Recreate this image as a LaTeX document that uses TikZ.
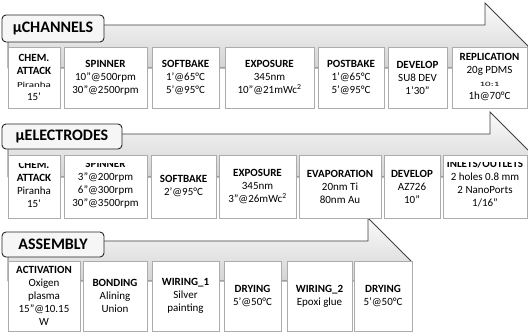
\documentclass[tikz,border=0pt]{standalone}
\usepackage{fontspec}
\setmainfont{Carlito}
\usepackage{graphicx}

% process step box: name, x1, y1, x2, y2, text
\newcommand\stepat[6]{%
  \node[stepbox, minimum width={(#4-#2)*1pt}, minimum height={(#5-#3)*1pt}]
    (#1) at ({(#2+#4)/2},{(#3+#5)/2}) {#6};}
\newcommand\squash[2]{\scalebox{1}[#1]{#2}}

\begin{document}
\begin{tikzpicture}[x=1pt,y=-1pt,
  flowarrow/.style={draw=black!75, line width=0.8pt, top color=gray!3,
    bottom color=gray!45, line join=miter},
  titlebox/.style={draw=black!85, line width=0.9pt, fill=gray!7,
    rounded corners=4pt, inner sep=0pt,
    font=\fontsize{16}{18}\selectfont\bfseries},
  stepbox/.style={draw=gray!65, line width=0.7pt, fill=white, inner sep=0pt,
    align=center, font=\fontsize{11}{13}\selectfont},
  steptext/.style={inner sep=0pt, align=center,
    font=\fontsize{11}{13}\selectfont},
  tall/.style={font=\fontsize{11}{14}\selectfont}
]
\clip (0,0) rectangle (528,336);

% ---- process arrows ----
\draw[flowarrow] (8,25) -- (485,25) -- (485,3) -- (528.5,46.5) -- (485,90)
  -- (485,68) -- (8,68) -- cycle;
\draw[flowarrow] (8,134) -- (490,134) -- (490,112) -- (533.5,155.5) -- (490,199)
  -- (490,177) -- (8,177) -- cycle;
\draw[flowarrow] (8,241) -- (368,241) -- (368,218) -- (411,261) -- (368,304)
  -- (368,281) -- (8,281) -- cycle;

% ---- micro channels ----
\node[titlebox, minimum width=102pt, minimum height=27pt] (chanTitle) at (53,28.5) {µCHANNELS};
\stepat{chanChem}{8}{47}{60}{108}{\textbf{CHEM.}\\\textbf{ATTACK}\\\squash{0.7}{Piranha}\\15’}
\stepat{chanSpin}{64}{47}{147}{108}{\textbf{SPINNER}\\10”@500rpm\\30”@2500rpm}
\stepat{chanSoft}{152}{47}{219}{108}{\textbf{SOFTBAKE}\\1’@65°C\\5’@95°C}
\stepat{chanExpo}{225}{47}{314}{108}{\textbf{EXPOSURE}\\345nm\\10”@21mWc\textsuperscript{2}}
\stepat{chanPost}{318}{47}{384}{108}{\textbf{POSTBAKE}\\1’@65°C\\5’@95°C}
\stepat{chanDev}{388}{47}{447}{108}{\textbf{DEVELOP}\\SU8 DEV\\1’30”}
\stepat{chanRep}{452}{47}{527}{108}{\textbf{REPLICATION}\\20g PDMS\\\squash{0.6}{10:1}\\1h@70°C}

% ---- micro electrodes ----
\node[titlebox, minimum width=120pt, minimum height=25pt] (elecTitle) at (62,136.5) {µELECTRODES};
\stepat{elecChem}{8}{155}{60}{218}{}
\begin{scope}
  \clip (8,163.5) rectangle (60,218);
  \node[steptext] (elecChemText) at (34,184) {\textbf{CHEM.}\\\textbf{ATTACK}\\Piranha\\15’};
\end{scope}
\stepat{elecSpin}{64}{155}{147}{218}{}
\begin{scope}
  \clip (64,163.5) rectangle (147,218);
  \node[steptext] (elecSpinText) at (105.5,184) {\textbf{SPINNER}\\3”@200rpm\\6”@300rpm\\30”@3500rpm};
\end{scope}
\stepat{elecSoft}{151}{155}{216}{218}{\textbf{SOFTBAKE}\\2’@95°C}
\stepat{elecExpo}{219}{155}{296}{218}{\textbf{EXPOSURE}\\345nm\\3”@26mWc\textsuperscript{2}}
\stepat{elecEvap}{299}{155}{381}{218}{\textbf{EVAPORATION}\\20nm Ti\\80nm Au}
\stepat{elecDev}{384}{155}{440}{218}{\textbf{DEVELOP}\\AZ726\\10”}
\stepat{elecPort}{443}{155}{527}{218}{}
\begin{scope}
  \clip (443,162.5) rectangle (527,218);
  \node[steptext] (elecPortText) at (485,183.5) {\textbf{INLETS/OUTLETS}\\2 holes 0.8 mm\\2 NanoPorts\\1/16”};
\end{scope}

% ---- assembly ----
\node[titlebox, minimum width=102pt, minimum height=25pt] (asmTitle) at (53,244.5) {ASSEMBLY};
\stepat{asmAct}{8}{261}{80}{331}{\textbf{ACTIVATION}\\Oxigen\\plasma\\15”@10.15\\W}
\stepat{asmBond}{83}{261}{147}{331}{\textbf{BONDING}\\Alining\\Union}
\stepat{asmWireA}{152}{261}{219}{331}{\textbf{WIRING\_1}\\Silver\\painting}
\stepat{asmDryA}{224}{261}{281}{331}{\textbf{DRYING}\\5’@50°C}
\stepat{asmWireB}{287}{261}{352}{331}{\textbf{WIRING\_2}\\Epoxi glue}
\stepat{asmDryB}{354}{261}{412}{331}{\textbf{DRYING}\\5’@50°C}
\end{tikzpicture}
\end{document}
